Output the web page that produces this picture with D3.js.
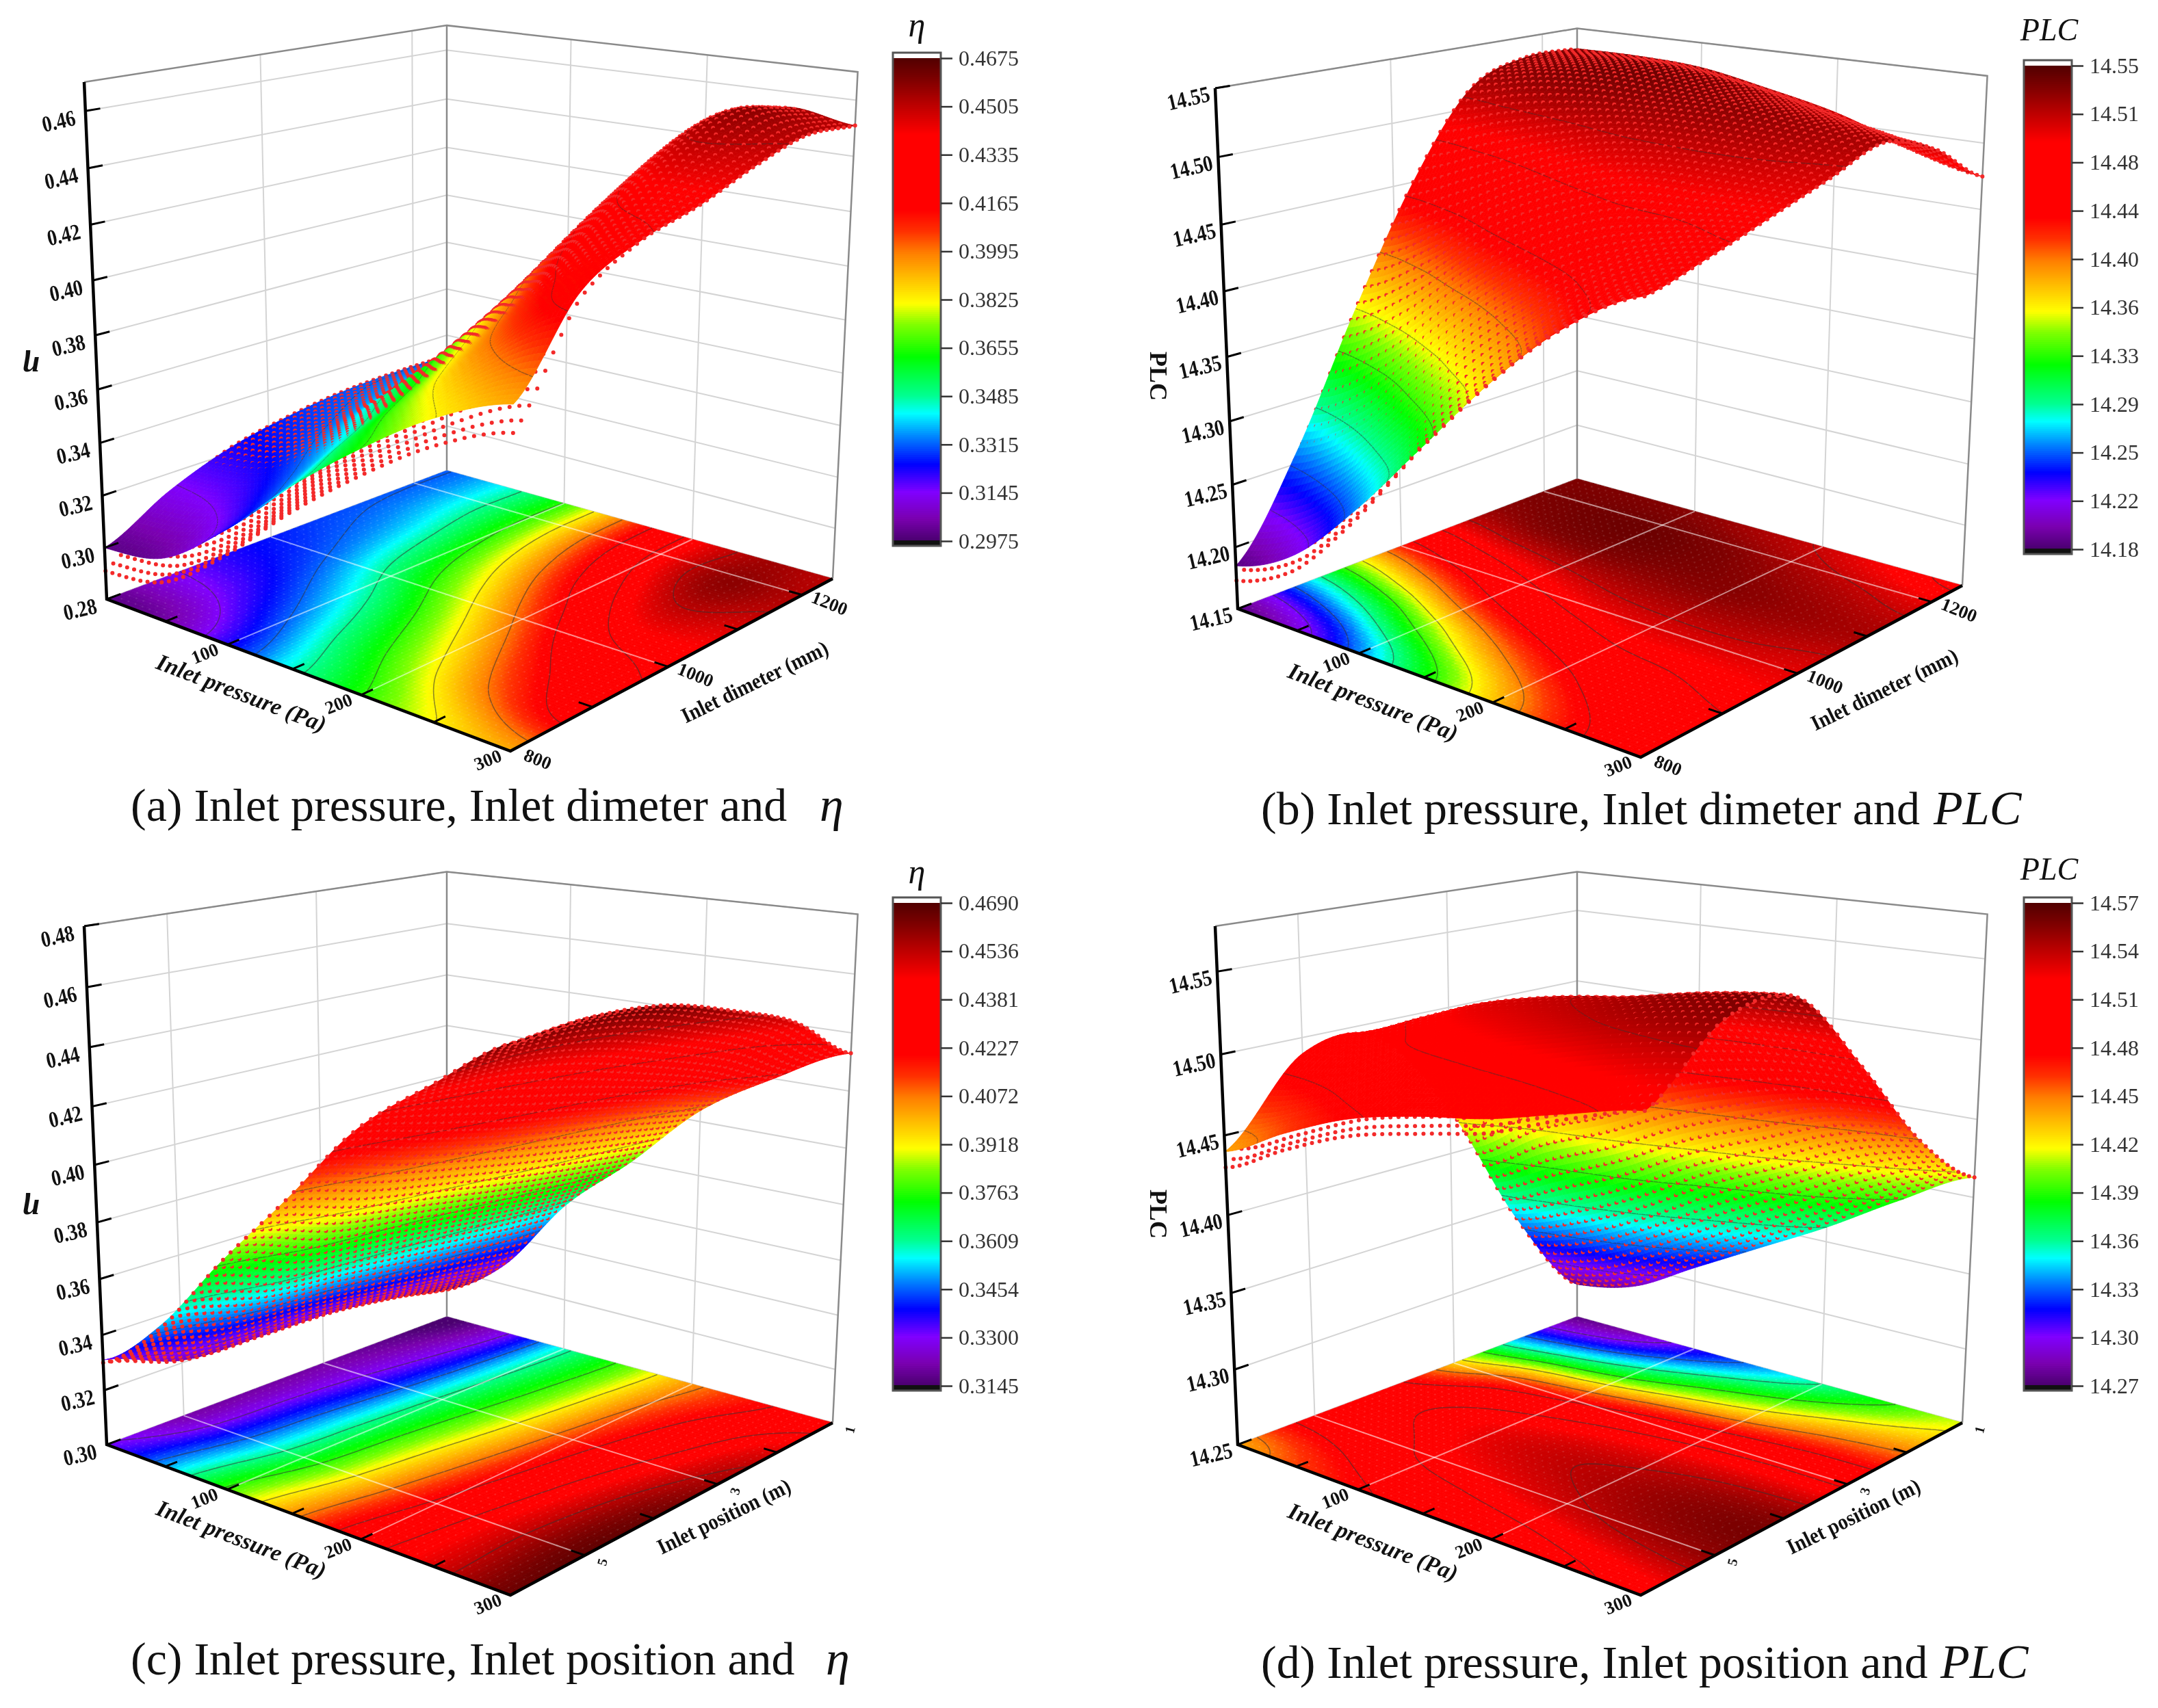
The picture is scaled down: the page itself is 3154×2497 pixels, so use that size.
<!DOCTYPE html>
<html>
<head>
<meta charset="utf-8">
<title>Response surfaces</title>
<script src="https://cdn.jsdelivr.net/npm/d3@7"></script>
<style>
  html, body { margin: 0; background: #fff; }
  svg { display: block; filter: blur(0.7px); }
  text { font-family: "Liberation Serif", serif; }
</style>
</head>
<body>
<svg id="chart" width="3154" height="2497"></svg>
<script>
// --- values ---
const pressureValues = [0, 50, 100, 150, 200, 250, 300];
const diameterValues = [800, 875, 950, 1025, 1100, 1175, 1250];
const positionValues = [6, 5, 4, 3, 2, 1];

// one row per pressure, one column per diameter / position
const etaByDiameter = [
  [0.300, 0.313, 0.322, 0.327, 0.330, 0.331, 0.331],
  [0.304, 0.317, 0.327, 0.334, 0.339, 0.343, 0.343],
  [0.322, 0.332, 0.343, 0.355, 0.362, 0.366, 0.366],
  [0.345, 0.355, 0.366, 0.380, 0.392, 0.400, 0.402],
  [0.365, 0.378, 0.392, 0.408, 0.424, 0.435, 0.437],
  [0.382, 0.402, 0.418, 0.434, 0.448, 0.457, 0.454],
  [0.393, 0.421, 0.432, 0.438, 0.446, 0.452, 0.451]
];
const plcByDiameter = [
  [14.185, 14.26, 14.36, 14.45, 14.515, 14.533, 14.533],
  [14.21, 14.29, 14.39, 14.47, 14.525, 14.538, 14.533],
  [14.26, 14.34, 14.43, 14.49, 14.53, 14.54, 14.53],
  [14.32, 14.39, 14.46, 14.505, 14.53, 14.535, 14.52],
  [14.38, 14.43, 14.48, 14.51, 14.53, 14.525, 14.508],
  [14.43, 14.46, 14.485, 14.51, 14.525, 14.515, 14.49],
  [14.462, 14.475, 14.49, 14.505, 14.52, 14.505, 14.475]
];
const etaByPosition = [
  [0.331, 0.321, 0.320, 0.320, 0.317, 0.312],
  [0.350, 0.343, 0.340, 0.336, 0.332, 0.328],
  [0.378, 0.369, 0.366, 0.363, 0.360, 0.358],
  [0.404, 0.397, 0.392, 0.387, 0.383, 0.380],
  [0.431, 0.425, 0.419, 0.414, 0.409, 0.404],
  [0.449, 0.449, 0.445, 0.438, 0.430, 0.420],
  [0.465, 0.467, 0.465, 0.458, 0.449, 0.433]
];
const plcByPosition = [
  [14.44, 14.49, 14.49, 14.43, 14.34, 14.275],
  [14.46, 14.497, 14.51, 14.46, 14.355, 14.285],
  [14.477, 14.516, 14.525, 14.475, 14.375, 14.31],
  [14.487, 14.526, 14.535, 14.49, 14.40, 14.335],
  [14.494, 14.536, 14.541, 14.50, 14.42, 14.36],
  [14.505, 14.546, 14.549, 14.505, 14.44, 14.388],
  [14.515, 14.552, 14.554, 14.505, 14.449, 14.413]
];

// how far the red points sit under the surface at the near edge, and how that fades with pressure
const etaDiameterDrop = [0.009, 0.002, 0, 0, 0, 0, 0];
const plcDiameterDrop = [0.012, 0.003, 0, 0, 0, 0, 0];
const etaPositionDrop = [0.001, 0, 0, 0, 0, 0];
const plcPositionDrop = [0.010, 0.002, 0, 0, 0, 0];
const etaDiameterFade = [1, 1, 1, 1, 1, 1, 1];
const plcDiameterFade = [1, 1, 0.6, 0, 0, 0, 0];
const etaPositionFade = [1, 1, 0, 0, 0, 0, 0];
const plcPositionFade = [1, 1, 1, 1, 0.8, 0.3, 0];

const pressureTicks = [0, 50, 100, 150, 200, 250, 300];
const pressureLabels = [100, 200, 300];
const diameterTicks = [800, 900, 1000, 1100, 1200];
const diameterLabels = [800, 1000, 1200];
const positionTicks = [5, 4, 3, 2, 1];
const positionLabels = [5, 3, 1];

const etaAxisA = ["0.28", "0.30", "0.32", "0.34", "0.36", "0.38", "0.40", "0.42", "0.44", "0.46"];
const plcAxisB = ["14.15", "14.20", "14.25", "14.30", "14.35", "14.40", "14.45", "14.50", "14.55"];
const etaAxisC = ["0.30", "0.32", "0.34", "0.36", "0.38", "0.40", "0.42", "0.44", "0.46", "0.48"];
const plcAxisD = ["14.25", "14.30", "14.35", "14.40", "14.45", "14.50", "14.55"];

const barTicksA = ["0.2975", "0.3145", "0.3315", "0.3485", "0.3655", "0.3825", "0.3995", "0.4165", "0.4335", "0.4505", "0.4675"];
const barTicksB = ["14.18", "14.22", "14.25", "14.29", "14.33", "14.36", "14.40", "14.44", "14.48", "14.51", "14.55"];
const barTicksC = ["0.3145", "0.3300", "0.3454", "0.3609", "0.3763", "0.3918", "0.4072", "0.4227", "0.4381", "0.4536", "0.4690"];
const barTicksD = ["14.27", "14.30", "14.33", "14.36", "14.39", "14.42", "14.45", "14.48", "14.51", "14.54", "14.57"];

const colorStops = [0, 0.045, 0.10, 0.157, 0.213, 0.263, 0.30, 0.38, 0.447, 0.49, 0.594, 0.64, 0.684, 0.84, 0.897, 0.953, 1];
const colorValues = ["#4b0070", "#7a00b0", "#8000ff", "#0000ff", "#0080ff", "#00ffff", "#00ff90", "#00ff00", "#80ff00", "#ffff00", "#ff8000", "#ff3000", "#ff0000", "#ff0000", "#c00000", "#800000", "#500000"];

const panels = [
  {
    grid: etaByDiameter, drop: etaDiameterDrop, fade: etaDiameterFade, ys: diameterValues,
    yDomain: [800, 1250], yTicks: diameterTicks, yLabels: diameterLabels,
    zDomain: [0.28, 0.47], zLabels: etaAxisA, barTicks: barTicksA,
    L: [156, 876], F: [746, 1098], B: [653, 688], R: [1217, 846], Lt: [123, 120], Bt: [653, 34], Rt: [1252, 107],
    bar: { x: 1305, top: 85, bottom: 791 },
    barTitle: { text: "η", x: 1340, y: 36 },
    zTitle: { text: "η", x: 45, y: 537, rot: 180, italic: true },
    xTitle: { text: "Inlet pressure (Pa)", x: 353, y: 1013 },
    yTitle: { text: "Inlet dimeter (mm)", x: 1103, y: 997 },
    caption: { text: "(a) Inlet pressure, Inlet dimeter and", x: 191, y: 1200, symbol: "η", sx: 1198 }
  },
  {
    grid: plcByDiameter, drop: plcDiameterDrop, fade: plcDiameterFade, ys: diameterValues,
    yDomain: [800, 1250], yTicks: diameterTicks, yLabels: diameterLabels,
    zDomain: [14.15, 14.55], zLabels: plcAxisB, barTicks: barTicksB,
    L: [1809, 890], F: [2398, 1107], B: [2305, 700], R: [2868, 856], Lt: [1776, 129], Bt: [2305, 45], Rt: [2905, 119],
    bar: { x: 2958, top: 96, bottom: 803 },
    barTitle: { text: "PLC", x: 2995, y: 43 },
    zTitle: { text: "PLC", x: 1693, y: 550, rot: 90 },
    xTitle: { text: "Inlet pressure (Pa)", x: 2007, y: 1026 },
    yTitle: { text: "Inlet dimeter (mm)", x: 2754, y: 1008 },
    caption: { text: "(b) Inlet pressure, Inlet dimeter and", x: 1843, y: 1205, symbol: "PLC", sx: 2826 }
  },
  {
    grid: etaByPosition, drop: etaPositionDrop, fade: etaPositionFade, ys: positionValues,
    yDomain: [6, 1], yTicks: positionTicks, yLabels: positionLabels,
    zDomain: [0.30, 0.48], zLabels: etaAxisC, barTicks: barTicksC,
    L: [156, 2112], F: [746, 2332], B: [653, 1925], R: [1217, 2080], Lt: [123, 1354], Bt: [653, 1270], Rt: [1252, 1343],
    bar: { x: 1305, top: 1320, bottom: 2026 },
    barTitle: { text: "η", x: 1340, y: 1274 },
    zTitle: { text: "η", x: 45, y: 1769, rot: 180, italic: true },
    xTitle: { text: "Inlet pressure (Pa)", x: 353, y: 2250 },
    yTitle: { text: "Inlet position (m)", x: 1058, y: 2217 },
    caption: { text: "(c) Inlet pressure, Inlet position and", x: 191, y: 2448, symbol: "η", sx: 1207 }
  },
  {
    grid: plcByPosition, drop: plcPositionDrop, fade: plcPositionFade, ys: positionValues,
    yDomain: [6, 1], yTicks: positionTicks, yLabels: positionLabels,
    zDomain: [14.25, 14.577], zLabels: plcAxisD, barTicks: barTicksD,
    L: [1809, 2112], F: [2398, 2332], B: [2305, 1925], R: [2868, 2080], Lt: [1776, 1354], Bt: [2305, 1270], Rt: [2905, 1343],
    bar: { x: 2958, top: 1320, bottom: 2026 },
    barTitle: { text: "PLC", x: 2995, y: 1270 },
    zTitle: { text: "PLC", x: 1693, y: 1775, rot: 90 },
    xTitle: { text: "Inlet pressure (Pa)", x: 2007, y: 2254 },
    yTitle: { text: "Inlet position (m)", x: 2709, y: 2217 },
    caption: { text: "(d) Inlet pressure, Inlet position and", x: 1843, y: 2453, symbol: "PLC", sx: 2836 }
  }
];

const MESH = 100;       // surface cells per side
const DOT_EVERY = 2;    // one red point per this many mesh nodes
const BAR_W = 70;

const svg = d3.select("#chart");

function det3(a, b, c) {
  return a[0] * (b[1] * c[2] - b[2] * c[1]) - b[0] * (a[1] * c[2] - a[2] * c[1]) + c[0] * (a[1] * b[2] - a[2] * b[1]);
}
// solve k1*a + k2*b + k3*c = d
function solve3(a, b, c, d) {
  const m = det3(a, b, c);
  return [det3(d, b, c) / m, det3(a, d, c) / m, det3(a, b, d) / m];
}

// perspective box: u runs L->F, v runs L->B, w runs L->Lt, all 0..1
function makeProjection(p) {
  const h = q => [q[0], q[1], 1];
  const neg = q => [-q[0], -q[1], -q[2]];
  const O = h(p.L);
  const floor = solve3(h(p.F), h(p.B), neg(h(p.R)), O);
  const wall = solve3(h(p.B), h(p.Lt), neg(h(p.Bt)), O);
  const A = h(p.F).map((d, i) => floor[0] * d - O[i]);
  const B = h(p.B).map((d, i) => floor[1] * d - O[i]);
  const C = h(p.Lt).map((d, i) => wall[1] * d - O[i]);
  return (u, v, w) => {
    const X = O[0] + u * A[0] + v * B[0] + w * C[0];
    const Y = O[1] + u * A[1] + v * B[1] + w * C[1];
    const W = O[2] + u * A[2] + v * B[2] + w * C[2];
    return [X / W, Y / W];
  };
}

function catmull(p0, p1, p2, p3, t) {
  return 0.5 * (2 * p1 + (p2 - p0) * t + (2 * p0 - 5 * p1 + 4 * p2 - p3) * t * t + (3 * p1 - p0 - 3 * p2 + p3) * t * t * t);
}
function pick(arr, i) {
  return arr[Math.max(0, Math.min(arr.length - 1, i))];
}
// smooth drawing mesh through the read-off grid, s and t 0..1
function sampleGrid(grid, s, t) {
  const fs = s * (grid.length - 1), is = Math.min(Math.floor(fs), grid.length - 2), ts = fs - is;
  const ncol = grid[0].length;
  const ft = t * (ncol - 1), it = Math.min(Math.floor(ft), ncol - 2), tt = ft - it;
  const rowVal = r => catmull(pick(r, it - 1), pick(r, it), pick(r, it + 1), pick(r, it + 2), tt);
  return catmull(rowVal(pick(grid, is - 1)), rowVal(pick(grid, is)), rowVal(pick(grid, is + 1)), rowVal(pick(grid, is + 2)), ts);
}

// crossing segments of one cell; corners are [u, v, value]
function cellSegments(c, level) {
  const pts = [];
  for (let i = 0; i < 4; i++) {
    const a = c[i], b = c[(i + 1) % 4];
    if ((a[2] < level) !== (b[2] < level)) {
      const k = (level - a[2]) / (b[2] - a[2]);
      pts.push([a[0] + (b[0] - a[0]) * k, a[1] + (b[1] - a[1]) * k]);
    }
  }
  const segs = [];
  for (let i = 0; i + 1 < pts.length; i += 2) segs.push([pts[i], pts[i + 1]]);
  return segs;
}

function label(g, x, y, rot, str, size, opts) {
  const o = opts || {};
  return g.append("text")
    .attr("transform", `translate(${x},${y}) rotate(${rot}) scale(${o.sx || 1},1)`)
    .attr("text-anchor", "middle")
    .attr("dominant-baseline", "central")
    .attr("font-size", size)
    .attr("font-weight", o.bold === false ? 400 : 700)
    .attr("font-style", o.italic ? "italic" : "normal")
    .attr("fill", o.fill || "#111")
    .text(str);
}

function drawPanel(p) {
  const g = svg.append("g");
  const proj = makeProjection(p);
  const uScale = d3.scaleLinear().domain([0, 300]).range([0, 1]);
  const vScale = d3.scaleLinear().domain(p.yDomain).range([0, 1]);
  const wScale = d3.scaleLinear().domain(p.zDomain).range([0, 1]);
  const barValues = p.barTicks.map(Number);
  const fraction = d3.scaleLinear().domain([barValues[0], barValues[barValues.length - 1]]).range([0, 1]).clamp(true);
  const ramp = d3.scaleLinear().domain(colorStops).range(colorValues);
  const color = z => ramp(fraction(z));
  const dropScale = d3.scaleLinear().domain(p.ys.map(vScale)).range(p.drop);
  const fadeScale = d3.scaleLinear().domain(pressureValues.map(uScale)).range(p.fade);
  const line = d3.line();
  const levels = barValues.slice(1, -1);
  const zTicks = p.zLabels.map(Number);

  // walls
  const grid = g.append("g").attr("fill", "none").attr("stroke", "#d4d4d4").attr("stroke-width", 2);
  zTicks.forEach(z => {
    const w = wScale(z);
    grid.append("path").attr("d", line([proj(0, 0, w), proj(0, 1, w), proj(1, 1, w)]));
  });
  p.yTicks.filter(y => p.yLabels.includes(y) && y !== 1).forEach(y => {
    grid.append("path").attr("d", line([proj(0, vScale(y), 0), proj(0, vScale(y), 1)]));
  });
  pressureLabels.slice(0, 2).forEach(x => {
    grid.append("path").attr("d", line([proj(uScale(x), 1, 0), proj(uScale(x), 1, 1)]));
  });
  const frame = g.append("g").attr("fill", "none").attr("stroke", "#8a8a8a").attr("stroke-width", 2.5);
  frame.append("path").attr("d", line([proj(0, 0, 1), proj(0, 1, 1), proj(1, 1, 1), proj(1, 1, 0)]));
  frame.append("path").attr("d", line([proj(0, 1, 1), proj(0, 1, 0)]));
  grid.append("path").attr("d", line([proj(0, 0, 0), proj(0, 1, 0), proj(1, 1, 0)]));

  // sampled mesh
  const mesh = d3.range(MESH + 1).map(i => d3.range(MESH + 1).map(j => sampleGrid(p.grid, i / MESH, j / MESH)));
  const dotZ = (i, j) => mesh[i][j] - dropScale(j / MESH) * fadeScale(i / MESH);

  // floor map: flat, so cells can share one path per colour
  const buckets = new Map();
  const floorLines = d3.path();
  for (let i = 0; i < MESH; i++) {
    for (let j = 0; j < MESH; j++) {
      const u0 = i / MESH, u1 = (i + 1) / MESH, v0 = j / MESH, v1 = (j + 1) / MESH;
      const corners = [[u0, v0, mesh[i][j]], [u1, v0, mesh[i + 1][j]], [u1, v1, mesh[i + 1][j + 1]], [u0, v1, mesh[i][j + 1]]];
      const mean = d3.mean(corners, c => c[2]);
      const key = Math.round(fraction(mean) * 400);
      if (!buckets.has(key)) buckets.set(key, { path: d3.path(), fill: color(mean) });
      const path = buckets.get(key).path;
      corners.forEach((c, k) => {
        const q = proj(c[0], c[1], 0);
        if (k === 0) path.moveTo(q[0], q[1]); else path.lineTo(q[0], q[1]);
      });
      path.closePath();
      levels.forEach(level => {
        cellSegments(corners, level).forEach(s => {
          const a = proj(s[0][0], s[0][1], 0), b = proj(s[1][0], s[1][1], 0);
          floorLines.moveTo(a[0], a[1]);
          floorLines.lineTo(b[0], b[1]);
        });
      });
    }
  }
  const floorG = g.append("g");
  buckets.forEach(b => {
    floorG.append("path").attr("d", b.path.toString()).attr("fill", b.fill).attr("stroke", b.fill).attr("stroke-width", 0.8);
  });
  g.append("path").attr("d", floorLines.toString()).attr("fill", "none").attr("stroke", "#333").attr("stroke-opacity", 0.55).attr("stroke-width", 1.6);

  // floor grid lines and the projected points
  const floorGrid = g.append("g").attr("fill", "none").attr("stroke", "#fff").attr("stroke-opacity", 0.55).attr("stroke-width", 2);
  pressureLabels.slice(0, 2).forEach(x => {
    floorGrid.append("path").attr("d", line([proj(uScale(x), 0, 0), proj(uScale(x), 1, 0)]));
  });
  p.yTicks.filter(y => p.yLabels.includes(y) && y !== 1).forEach(y => {
    floorGrid.append("path").attr("d", line([proj(0, vScale(y), 0), proj(1, vScale(y), 0)]));
  });
  const floorDots = d3.path();
  for (let i = 0; i <= MESH; i += DOT_EVERY) {
    for (let j = 0; j <= MESH; j += DOT_EVERY) {
      const q = proj(i / MESH, j / MESH, 0);
      floorDots.moveTo(q[0] + 1.4, q[1]);
      floorDots.arc(q[0], q[1], 1.4, 0, 2 * Math.PI);
    }
  }
  g.append("path").attr("d", floorDots.toString()).attr("fill", "#fff").attr("fill-opacity", 0.1);

  // surface, far cells first
  const surf = g.append("g");
  for (let i = 0; i < MESH; i++) {
    for (let j = MESH - 1; j >= 0; j--) {
      const u0 = i / MESH, u1 = (i + 1) / MESH, v0 = j / MESH, v1 = (j + 1) / MESH;
      const corners = [[u0, v0, mesh[i][j]], [u1, v0, mesh[i + 1][j]], [u1, v1, mesh[i + 1][j + 1]], [u0, v1, mesh[i][j + 1]]];
      const mean = d3.mean(corners, c => c[2]);
      const fill = color(mean);
      const pts = corners.map(c => proj(c[0], c[1], wScale(c[2])));
      surf.append("path").attr("d", line(pts) + "Z").attr("fill", fill).attr("stroke", fill).attr("stroke-width", 0.8);
      levels.forEach(level => {
        cellSegments(corners, level).forEach(s => {
          surf.append("path")
            .attr("d", line([proj(s[0][0], s[0][1], wScale(level)), proj(s[1][0], s[1][1], wScale(level))]))
            .attr("stroke", "#333").attr("stroke-opacity", 0.5).attr("stroke-width", 1.5);
        });
      });
      if (i % DOT_EVERY === 0 && j % DOT_EVERY === 0) {
        const q = proj(u0, v0, wScale(dotZ(i, j)));
        surf.append("circle").attr("cx", q[0]).attr("cy", q[1]).attr("r", 3).attr("fill", "#f32a2a");
      }
    }
  }
  // the last row never gets a cell after it
  for (let j = 0; j <= MESH; j += DOT_EVERY) {
    const q = proj(1, j / MESH, wScale(dotZ(MESH, j)));
    surf.append("circle").attr("cx", q[0]).attr("cy", q[1]).attr("r", 3).attr("fill", "#f32a2a");
  }

  // black axes
  const axes = g.append("g").attr("fill", "none").attr("stroke", "#000").attr("stroke-width", 4.5);
  axes.append("path").attr("d", line([proj(0, 0, 1), proj(0, 0, 0), proj(1, 0, 0), proj(1, 1, 0)]));
  zTicks.forEach(z => {
    const a = proj(0, 0, wScale(z)), b = proj(0, 0.035, wScale(z));
    axes.append("path").attr("d", line([a, b])).attr("stroke-width", 3);
  });
  pressureTicks.slice(1, -1).forEach(x => {
    axes.append("path").attr("d", line([proj(uScale(x), 0, 0), proj(uScale(x), 0.03, 0)])).attr("stroke-width", 3);
  });
  p.yTicks.filter(y => y !== 1).forEach(y => {
    axes.append("path").attr("d", line([proj(1, vScale(y), 0), proj(0.97, vScale(y), 0)])).attr("stroke-width", 3);
  });

  // axis labels
  p.zLabels.forEach(t => {
    const q = proj(0, 0, wScale(+t));
    label(g, q[0] - 39, q[1] + 15, -13, t, 33, { sx: 0.85 });
  });
  pressureLabels.forEach(x => {
    const q = proj(uScale(x), 0, 0);
    label(g, q[0] - 33, q[1] + 13, -22, String(x), 27);
  });
  const single = p.yLabels[0] < 10;
  p.yLabels.forEach(y => {
    const q = proj(1, vScale(y), 0);
    if (single) label(g, q[0] + 25, q[1] + 10, -75, String(y), 20);
    else label(g, q[0] + 40, q[1] + 12, 22, String(y), 27);
  });
  label(g, p.xTitle.x, p.xTitle.y, 21, p.xTitle.text, 34, { italic: true });
  label(g, p.yTitle.x, p.yTitle.y, -26, p.yTitle.text, 32, { sx: 0.9 });
  label(g, p.zTitle.x, p.zTitle.y, p.zTitle.rot, p.zTitle.text, p.zTitle.italic ? 46 : 36, { italic: p.zTitle.italic });

  // colour bar
  const bar = g.append("g");
  const barY = d3.scaleLinear().domain([0, 1]).range([p.bar.bottom, p.bar.top]);
  d3.range(0, 1, 1 / 240).forEach(f => {
    bar.append("rect").attr("x", p.bar.x).attr("y", barY(f + 1 / 240) - 0.5)
      .attr("width", BAR_W).attr("height", (p.bar.bottom - p.bar.top) / 240 + 1)
      .attr("fill", ramp(f));
  });
  bar.append("rect").attr("x", p.bar.x).attr("y", p.bar.bottom - 1).attr("width", BAR_W).attr("height", 8).attr("fill", "#111");
  bar.append("rect").attr("x", p.bar.x).attr("y", p.bar.top - 8).attr("width", BAR_W).attr("height", 8).attr("fill", "#fff");
  bar.append("rect").attr("x", p.bar.x).attr("y", p.bar.top - 8).attr("width", BAR_W).attr("height", p.bar.bottom - p.bar.top + 15)
    .attr("fill", "none").attr("stroke", "#555").attr("stroke-width", 3);
  const barAxis = d3.scalePoint().domain(p.barTicks).range([p.bar.bottom, p.bar.top]);
  const axisG = bar.append("g").attr("transform", `translate(${p.bar.x + BAR_W},0)`)
    .call(d3.axisRight(barAxis).tickSize(17).tickPadding(9));
  axisG.select(".domain").remove();
  axisG.selectAll("line").attr("stroke", "#333").attr("stroke-width", 2.5);
  axisG.selectAll("text").attr("font-family", "'Liberation Serif', serif").attr("font-size", 32).attr("fill", "#333");
  label(g, p.barTitle.x, p.barTitle.y, 0, p.barTitle.text, p.barTitle.text === "η" ? 50 : 46, { italic: true, bold: false });

  // caption
  g.append("text").attr("x", p.caption.x).attr("y", p.caption.y).attr("font-size", 68).attr("fill", "#111").text(p.caption.text);
  g.append("text").attr("x", p.caption.sx).attr("y", p.caption.y).attr("font-size", 70).attr("font-style", "italic").attr("fill", "#111").text(p.caption.symbol);
}

panels.forEach(drawPanel);
</script>
</body>
</html>
